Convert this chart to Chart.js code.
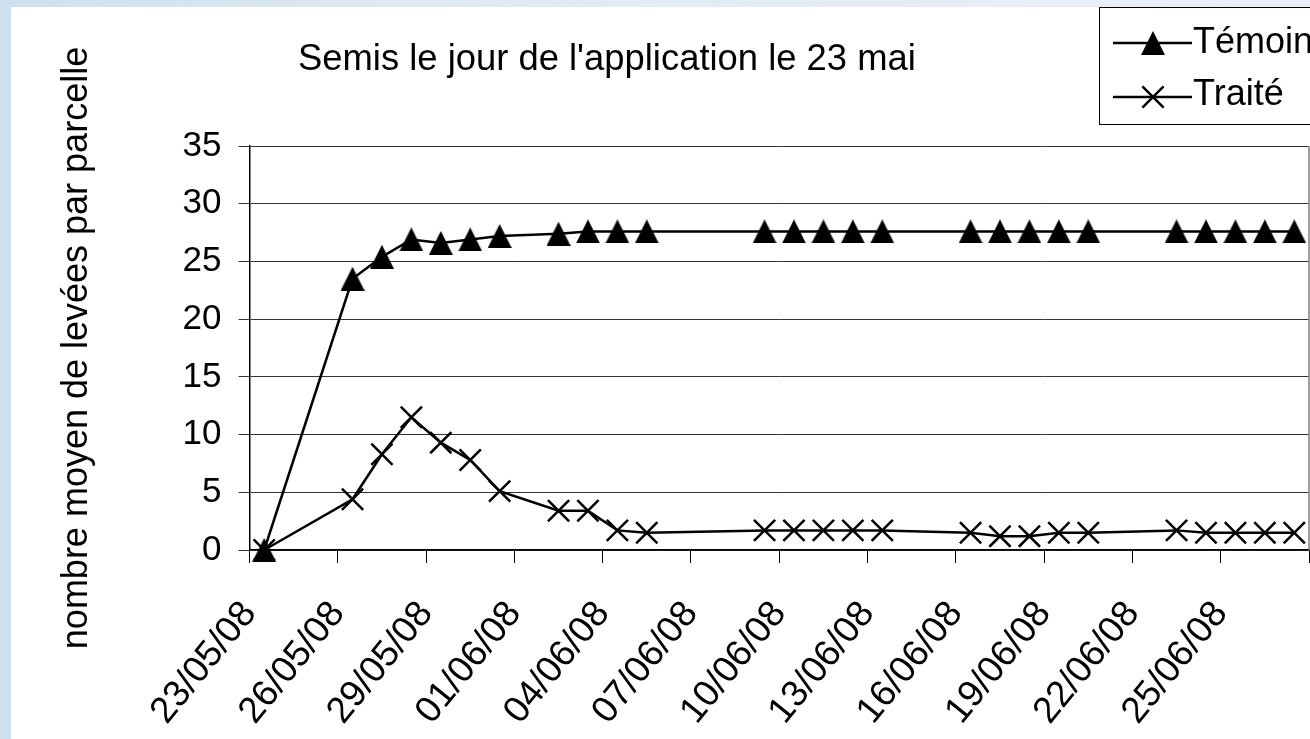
<!DOCTYPE html>
<html>
<head>
<meta charset="utf-8">
<script src="https://cdn.jsdelivr.net/npm/chart.js"></script>
<style>
  html, body { margin: 0; padding: 0; }
  body {
    width: 1310px; height: 739px; overflow: hidden; position: relative;
    background: linear-gradient(to right, #cfe0ee 0%, #dfeaf4 35%, #e9f0f7 100%);
  }
  #panel { position: absolute; left: 11px; top: 7px; width: 1299px; height: 732px; background: #fff; }
  canvas { display: block; }
</style>
</head>
<body>
<div id="panel"><canvas id="chart" width="1299" height="732"></canvas></div>
<script>
// Données
const dates = ['23/05/08', '26/05/08', '27/05/08', '28/05/08', '29/05/08', '30/05/08', '31/05/08',
  '02/06/08', '03/06/08', '04/06/08', '05/06/08',
  '09/06/08', '10/06/08', '11/06/08', '12/06/08', '13/06/08',
  '16/06/08', '17/06/08', '18/06/08', '19/06/08', '20/06/08',
  '23/06/08', '24/06/08', '25/06/08', '26/06/08', '27/06/08'];
const temoin = [0, 23.5, 25.4, 26.9, 26.6, 26.9, 27.2,
  27.4, 27.6, 27.6, 27.6,
  27.6, 27.6, 27.6, 27.6, 27.6,
  27.6, 27.6, 27.6, 27.6, 27.6,
  27.6, 27.6, 27.6, 27.6, 27.6];
const traite = [0, 4.4, 8.3, 11.5, 9.3, 7.8, 5.1,
  3.4, 3.4, 1.7, 1.5,
  1.7, 1.7, 1.7, 1.7, 1.7,
  1.5, 1.2, 1.2, 1.5, 1.5,
  1.7, 1.5, 1.5, 1.5, 1.5];
const xTickLabels = ['23/05/08', '26/05/08', '29/05/08', '01/06/08', '04/06/08', '07/06/08',
  '10/06/08', '13/06/08', '16/06/08', '19/06/08', '22/06/08', '25/06/08', ''];
const yTicks = [0, 5, 10, 15, 20, 25, 30, 35];

const FONT = "'Liberation Sans', Arial, sans-serif";

// jours depuis le 23/05/08
function dayIndex(s) {
  const [d, m, y] = s.split('/').map(Number);
  return (Date.UTC(2000 + y, m - 1, d) - Date.UTC(2008, 4, 23)) / 86400000;
}
const days = dates.map(dayIndex);
const tickDays = xTickLabels.map(l => l ? dayIndex(l) - 0.5 : 35.5);

// marqueur triangle (plein)
function triangleImg(w, h) {
  const c = document.createElement('canvas');
  c.width = w; c.height = h;
  const g = c.getContext('2d');
  g.fillStyle = '#000';
  g.beginPath();
  g.moveTo(w / 2, 0);
  g.lineTo(w, h);
  g.lineTo(0, h);
  g.closePath();
  g.fill();
  return c;
}
const tri = triangleImg(24, 24);

// titre, légende, bord droit
const decor = {
  id: 'decor',
  afterDraw(chart) {
    const ctx = chart.ctx;
    const a = chart.chartArea;
    ctx.save();
    // bord droit de la zone de tracé
    ctx.strokeStyle = '#808080';
    ctx.lineWidth = 1.5;
    ctx.beginPath();
    ctx.moveTo(a.right, a.top);
    ctx.lineTo(a.right, a.bottom);
    ctx.stroke();

    // titre
    ctx.fillStyle = '#000';
    ctx.font = '36.4px ' + FONT;
    ctx.textBaseline = 'alphabetic';
    ctx.textAlign = 'left';
    ctx.fillText("Semis le jour de l'application le 23 mai", 287, 63);

    // légende
    ctx.fillStyle = '#fff';
    ctx.fillRect(1088.5, 0.5, 260, 117);
    ctx.strokeStyle = '#000';
    ctx.lineWidth = 1;
    ctx.strokeRect(1088.5, 0.5, 260, 117);
    const rows = [{ y: 36, base: 46, ds: chart.data.datasets[0] }, { y: 90, base: 98, ds: chart.data.datasets[1] }];
    rows.forEach(r => {
      ctx.strokeStyle = '#000';
      ctx.lineWidth = 2.5;
      ctx.beginPath();
      ctx.moveTo(1102, r.y);
      ctx.lineTo(1181, r.y);
      ctx.stroke();
      const cx = 1142;
      if (r.ds.pointStyle === 'crossRot') {
        const d = r.ds.pointRadius * Math.SQRT1_2;
        ctx.lineWidth = r.ds.pointBorderWidth;
        ctx.beginPath();
        ctx.moveTo(cx - d, r.y - d); ctx.lineTo(cx + d, r.y + d);
        ctx.moveTo(cx + d, r.y - d); ctx.lineTo(cx - d, r.y + d);
        ctx.stroke();
      } else {
        ctx.drawImage(r.ds.pointStyle, cx - 12, r.y - 12);
      }
      ctx.fillStyle = '#000';
      ctx.font = '36px ' + FONT;
      ctx.textAlign = 'left';
      ctx.textBaseline = 'alphabetic';
      ctx.fillText(r.ds.label, 1182, r.base);
    });
    ctx.restore();
  }
};

new Chart(document.getElementById('chart'), {
  type: 'line',
  data: {
    datasets: [
      {
        label: 'Témoin',
        data: days.map((d, i) => ({ x: d, y: temoin[i] })),
        borderColor: '#000',
        borderWidth: 2.5,
        pointStyle: tri,
        pointRadius: 12,
        pointBackgroundColor: '#000',
        tension: 0,
        clip: false
      },
      {
        label: 'Traité',
        data: days.map((d, i) => ({ x: d, y: traite[i] })),
        borderColor: '#000',
        borderWidth: 2.5,
        pointStyle: 'crossRot',
        pointRadius: 15,
        pointBorderWidth: 2.5,
        pointBorderColor: '#000',
        tension: 0,
        clip: false
      }
    ]
  },
  options: {
    responsive: false,
    animation: false,
    events: [],
    layout: { autoPadding: false, padding: { top: 139, right: 1, left: 0, bottom: 0 } },
    plugins: {
      legend: { display: false },
      title: { display: false },
      tooltip: { enabled: false }
    },
    scales: {
      x: {
        type: 'linear',
        min: -0.5,
        max: 35.5,
        afterBuildTicks: s => { s.ticks = tickDays.map(v => ({ value: v })); },
        afterFit: s => { s.height = 189; s.paddingLeft = 0; s.paddingRight = 0; },
        grid: { drawOnChartArea: false, drawTicks: true, tickLength: 13, color: '#000', lineWidth: 1 },
        border: { display: true, color: '#000', width: 1.5 },
        ticks: {
          autoSkip: false,
          minRotation: 51,
          maxRotation: 51,
          padding: 30,
          labelOffset: 0,
          color: '#000',
          font: { family: FONT, size: 37 },
          callback: (v, i) => xTickLabels[i] || ''
        }
      },
      y: {
        min: 0,
        max: 35,
        afterBuildTicks: s => { s.ticks = yTicks.map(v => ({ value: v })); },
        afterFit: s => { s.width = 238.5; },
        grid: { color: '#333', lineWidth: 1, tickLength: 11 },
        border: { display: true, color: '#000', width: 1.5 },
        ticks: {
          padding: 17,
          color: '#000',
          font: { family: FONT, size: 35 }
        },
        title: {
          display: true,
          text: 'nombre moyen de levées par parcelle',
          color: '#000',
          font: { family: FONT, size: 36 },
          padding: { top: 44, bottom: 0 }
        }
      }
    }
  },
  plugins: [decor]
});
</script>
</body>
</html>
